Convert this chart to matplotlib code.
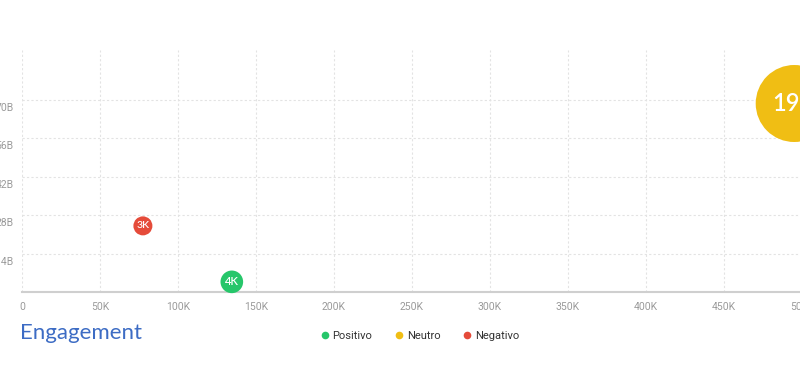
import matplotlib
matplotlib.use("Agg")
import matplotlib.pyplot as plt
import matplotlib.transforms as mtransforms
from matplotlib.lines import Line2D

# Data
categories = ["Positivo", "Neutro", "Negativo"]
x_values = [134500, 495000, 77500]          # engagement
y_values = [3.7e9, 68.7e9, 24.1e9]          # reach
counts = [4000, 19000, 3000]                # bubble size
bubble_labels = ["4K", "19K", "3K"]
colors = ["#26c66a", "#f0be14", "#e54b3a"]

x_ticks = [0, 50000, 100000, 150000, 200000, 250000, 300000, 350000, 400000, 450000, 500000]
x_tick_labels = ["0", "50K", "100K", "150K", "200K", "250K", "300K", "350K", "400K", "450K", "500K"]
y_ticks = [14e9, 28e9, 42e9, 56e9, 70e9]
y_tick_labels = ["14B", "28B", "42B", "56B", "70B"]

W, H = 800, 382
fig = plt.figure(figsize=(W / 100, H / 100), dpi=100)

# axes: x=0 at px 22, 50K per 78px; bottom at y=292, top at y=50
x_max = 540000
ax_left = 22 / W
ax_width = (x_max / 50000 * 78) / W
ax_bottom = (H - 292) / H
ax_height = (292 - 50) / H
ax = fig.add_axes([ax_left, ax_bottom, ax_width, ax_height])
ax.set_xlim(0, x_max)
ax.set_ylim(0, 88.2e9)

for s in ["top", "right", "left"]:
    ax.spines[s].set_visible(False)
ax.spines["bottom"].set_color("#cfcfcf")
ax.spines["bottom"].set_linewidth(1.5)

ax.set_xticks(x_ticks)
ax.set_xticklabels(x_tick_labels)
ax.set_yticks(y_ticks)
ax.set_yticklabels(y_tick_labels)
ax.tick_params(axis="both", length=0, labelsize=7.5, colors="#9a9a9a")
ax.tick_params(axis="x", pad=7)
ax.tick_params(axis="y", pad=6)
for lab in ax.get_xticklabels() + ax.get_yticklabels():
    lab.set_family("Roboto")
for lab in ax.get_yticklabels():
    lab.set_transform(lab.get_transform() + mtransforms.ScaledTranslation(0, -7 / 100, fig.dpi_scale_trans))

ax.grid(True, color="#e3e3e3", linestyle=(0, (2, 2)), linewidth=0.8)
ax.set_axisbelow(True)

# bubble radius in px
cmin, cmax = min(counts), max(counts)
rmin, rmax = 9.5, 38.5
for xv, yv, c, lab, col in zip(x_values, y_values, counts, bubble_labels, colors):
    r = rmin + (c - cmin) / (cmax - cmin) * (rmax - rmin)
    rpt = r * 0.72
    ax.scatter([xv], [yv], s=(2 * rpt) ** 2, color=col, edgecolors="none", zorder=3, clip_on=False)
    fs = 7.5 + (r - rmin) / (rmax - rmin) * 9.5
    ax.text(xv, yv, lab, color="white", ha="center", va="center", fontsize=fs,
            family="Lato", fontweight="semibold", zorder=4)

# title
fig.text(20 / W, 1 - 333 / H, "Engagement", color="#3d6cc4", fontsize=16, family="Lato",
         ha="left", va="center")

# legend
handles = [Line2D([0], [0], marker="o", linestyle="none", markersize=5.5, markerfacecolor=c,
                  markeredgecolor="none") for c in colors]
leg = fig.legend(handles, categories, loc="center", bbox_to_anchor=(419 / W, 1 - 336 / H), ncol=3,
                 frameon=False, handletextpad=0.2, columnspacing=1.9,
                 handlelength=1.0, prop={"family": "Roboto", "size": 8})
for t in leg.get_texts():
    t.set_color("#333333")

fig.savefig("out.png", dpi=100)
